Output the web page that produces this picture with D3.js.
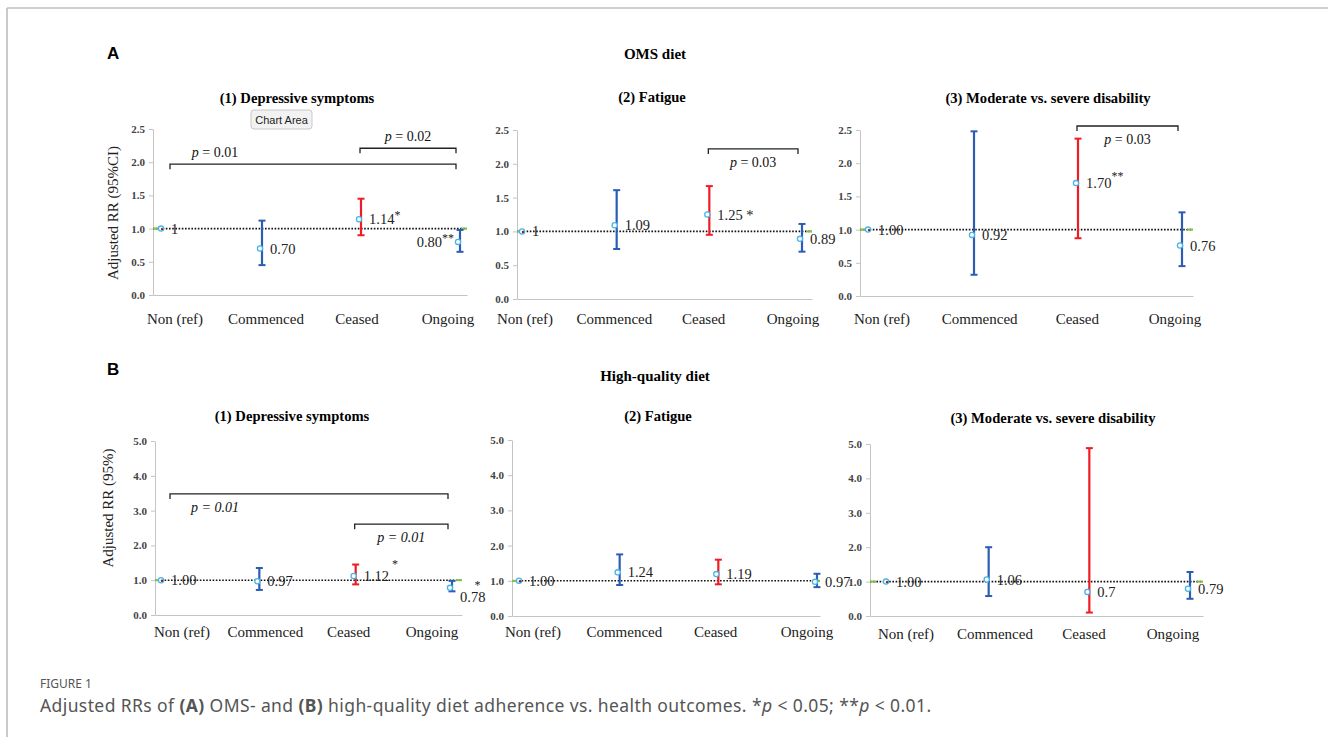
<!DOCTYPE html>
<html>
<head>
<meta charset="utf-8">
<script src="https://cdnjs.cloudflare.com/ajax/libs/d3/7.8.5/d3.min.js"></script>
<style>
  body { margin: 0; background: #fff; }
  svg { display: block; }
  .serif { font-family: "Liberation Serif", "DejaVu Serif", serif; }
  .axis path, .axis line { stroke: #c4c4c4; }
  .axis text { font-family: "Liberation Serif", serif; font-size: 11px; font-weight: bold; fill: #444; }
</style>
</head>
<body>
<div id="chart"></div>
<script>
const WIDTH = 1328;
const HEIGHT = 737;

const categories = ['Non (ref)', 'Commenced', 'Ceased', 'Ongoing'];

// OMS diet
const omsDepRR = [1.00, 0.70, 1.14, 0.80];
const omsDepLo = [1.00, 0.45, 0.90, 0.65];
const omsDepHi = [1.00, 1.12, 1.45, 0.98];
const omsDepText = ['1', '0.70', '1.14', '0.80'];
const omsDepStar = ['', '', '*', '**'];

const omsFatRR = [1.00, 1.09, 1.25, 0.89];
const omsFatLo = [1.00, 0.74, 0.95, 0.70];
const omsFatHi = [1.00, 1.61, 1.67, 1.11];
const omsFatText = ['1', '1.09', '1.25 *', '0.89'];
const omsFatStar = ['', '', '', ''];

const omsDisRR = [1.00, 0.92, 1.70, 0.76];
const omsDisLo = [1.00, 0.32, 0.87, 0.45];
const omsDisHi = [1.00, 2.48, 2.37, 1.26];
const omsDisText = ['1.00', '0.92', '1.70', '0.76'];
const omsDisStar = ['', '', '**', ''];

// High-quality diet
const hqDepRR = [1.00, 0.97, 1.12, 0.78];
const hqDepLo = [1.00, 0.72, 0.88, 0.68];
const hqDepHi = [1.00, 1.35, 1.45, 0.98];
const hqDepText = ['1.00', '0.97', '1.12', '0.78'];
const hqDepStar = ['', '', '*', '*'];

const hqFatRR = [1.00, 1.24, 1.19, 0.97];
const hqFatLo = [1.00, 0.88, 0.90, 0.82];
const hqFatHi = [1.00, 1.75, 1.60, 1.20];
const hqFatText = ['1.00', '1.24', '1.19', '0.97'];
const hqFatStar = ['', '', '', ''];

const hqDisRR = [1.00, 1.06, 0.70, 0.79];
const hqDisLo = [1.00, 0.58, 0.10, 0.50];
const hqDisHi = [1.00, 2.00, 4.88, 1.28];
const hqDisText = ['1.00', '1.06', '0.7', '0.79'];
const hqDisStar = ['', '', '', ''];

const omsTicks = [0, 0.5, 1.0, 1.5, 2.0, 2.5];
const hqTicks = [0, 1, 2, 3, 4, 5];

// significance brackets: category indices and the RR level of the bar
const omsDepBrackets = [
  {from: 0, to: 3, level: 1.97, label: '0.01', above: true},
  {from: 2, to: 3, level: 2.21, label: '0.02', above: true},
];
const omsFatBrackets = [{from: 2, to: 3, level: 2.22, label: '0.03', above: false}];
const omsDisBrackets = [{from: 2, to: 3, level: 2.56, label: '0.03', above: false}];
const hqDepBrackets = [
  {from: 0, to: 3, level: 3.48, label: '0.01', above: false, italic: true},
  {from: 2, to: 3, level: 2.61, label: '0.01', above: false, italic: true},
];

const BLUE = '#2b5db5';
const RED = '#ee1c24';
const barColors = [BLUE, BLUE, RED, BLUE];

const panels = [
  {title: '(1) Depressive symptoms', titleX: 297, titleY: 103, axisX: 153, right: 467, y0: 295, yTop: 129, max: 2.5,
   ticks: omsTicks, marks: [163, 460], labels: [175, 448], catY: 324, yTitle: 'Adjusted RR (95%CI)', yTitleX: 118, yTitleY: 213,
   rr: omsDepRR, lo: omsDepLo, hi: omsDepHi, text: omsDepText, star: omsDepStar, starDy: -5, starDx: [0, 0, 0, 0],
   brackets: omsDepBrackets, lastLeft: true},
  {title: '(2) Fatigue', titleX: 652, titleY: 102, axisX: 517, right: 812, y0: 299, yTop: 130, max: 2.5,
   ticks: omsTicks, marks: [524, 802], labels: [525, 793], catY: 324,
   rr: omsFatRR, lo: omsFatLo, hi: omsFatHi, text: omsFatText, star: omsFatStar, starDy: -5, starDx: [0, 0, 0, 0],
   brackets: omsFatBrackets},
  {title: '(3) Moderate vs. severe disability', titleX: 1048, titleY: 103, axisX: 860, right: 1193, y0: 296, yTop: 130, max: 2.5,
   ticks: omsTicks, marks: [870, 1182], labels: [882, 1175], catY: 324,
   rr: omsDisRR, lo: omsDisLo, hi: omsDisHi, text: omsDisText, star: omsDisStar, starDy: -8, starDx: [0, 0, 0, 0],
   brackets: omsDisBrackets},
  {title: '(1) Depressive symptoms', titleX: 292, titleY: 421, axisX: 155, right: 462, y0: 615, yTop: 441, max: 5,
   ticks: hqTicks, marks: [163, 452], labels: [182, 432], catY: 637, yTitle: 'Adjusted RR (95%)', yTitleX: 113, yTitleY: 508,
   rr: hqDepRR, lo: hqDepLo, hi: hqDepHi, text: hqDepText, star: hqDepStar, starDy: -13, starDx: [0, 0, 3, -11],
   brackets: hqDepBrackets, lastDown: 9},
  {title: '(2) Fatigue', titleX: 658, titleY: 421, axisX: 512, right: 820, y0: 616, yTop: 440, max: 5,
   ticks: hqTicks, marks: [521, 817], labels: [533, 807], catY: 637,
   rr: hqFatRR, lo: hqFatLo, hi: hqFatHi, text: hqFatText, star: hqFatStar, starDy: -5, starDx: [0, 0, 0, 0], brackets: []},
  {title: '(3) Moderate vs. severe disability', titleX: 1053, titleY: 423, axisX: 870, right: 1203, y0: 616, yTop: 444, max: 5,
   ticks: hqTicks, marks: [888, 1190], labels: [906, 1173], catY: 639,
   rr: hqDisRR, lo: hqDisLo, hi: hqDisHi, text: hqDisText, star: hqDisStar, starDy: -5, starDx: [0, 0, 0, 0], brackets: []},
];

const svg = d3.select('#chart').append('svg')
  .attr('width', WIDTH)
  .attr('height', HEIGHT);

// figure frame
svg.append('line').attr('x1', 7).attr('x2', WIDTH).attr('y1', 8).attr('y2', 8)
  .attr('stroke', '#cfcfcf').attr('stroke-width', 2);
svg.append('line').attr('x1', 7).attr('x2', 7).attr('y1', 8).attr('y2', HEIGHT)
  .attr('stroke', '#b8b8b8').attr('stroke-width', 1.5);

// section headings
svg.append('text').attr('x', 107).attr('y', 59).text('A')
  .style('font-family', 'Liberation Sans, sans-serif').style('font-weight', 'bold').style('font-size', '17px');
svg.append('text').attr('x', 107).attr('y', 375).text('B')
  .style('font-family', 'Liberation Sans, sans-serif').style('font-weight', 'bold').style('font-size', '17px');
svg.append('text').attr('class', 'serif').attr('x', 655).attr('y', 59).attr('text-anchor', 'middle')
  .style('font-weight', 'bold').style('font-size', '15px').text('OMS diet');
svg.append('text').attr('class', 'serif').attr('x', 655).attr('y', 381).attr('text-anchor', 'middle')
  .style('font-weight', 'bold').style('font-size', '15px').text('High-quality diet');

function drawPanel(p) {
  const g = svg.append('g').attr('class', 'panel');
  const y = d3.scaleLinear().domain([0, p.max]).range([p.y0, p.yTop]);
  const x = d3.scalePoint().domain(categories).range(p.marks);
  const xLab = d3.scalePoint().domain(categories).range(p.labels);
  const rows = categories.map((c, i) => ({
    cat: c, i: i, rr: p.rr[i], lo: p.lo[i], hi: p.hi[i], text: p.text[i], star: p.star[i]
  }));

  g.append('text').attr('class', 'serif')
    .attr('x', p.titleX).attr('y', p.titleY).attr('text-anchor', 'middle')
    .style('font-weight', 'bold').style('font-size', '14.6px')
    .text(p.title);

  g.append('g').attr('class', 'axis')
    .attr('transform', `translate(${p.axisX},0)`)
    .call(d3.axisLeft(y).tickValues(p.ticks).tickFormat(d3.format('.1f')).tickSize(4).tickSizeOuter(0))
    .call((a) => a.selectAll('text').attr('x', -8));

  g.append('g').attr('class', 'axis')
    .attr('transform', `translate(0,${p.y0})`)
    .call(d3.axisBottom(d3.scaleLinear().domain([0, 1]).range([p.axisX, p.right])).tickValues([]).tickSizeOuter(0));

  if (p.yTitle) {
    g.append('text').attr('class', 'serif')
      .attr('transform', `translate(${p.yTitleX},${p.yTitleY}) rotate(-90)`)
      .attr('text-anchor', 'middle').style('font-size', '15px').attr('fill', '#222')
      .text(p.yTitle);
  }

  g.selectAll('.cat').data(rows).enter().append('text')
    .attr('class', 'serif')
    .attr('x', (d) => xLab(d.cat)).attr('y', p.catY)
    .attr('text-anchor', 'middle').style('font-size', '15px').attr('fill', '#222')
    .text((d) => d.cat);

  // reference line at RR = 1
  g.append('line')
    .attr('x1', p.axisX).attr('x2', p.right).attr('y1', y(1)).attr('y2', y(1))
    .attr('stroke', '#111').attr('stroke-width', 1.6).attr('stroke-dasharray', '1.6,1.6');
  [p.axisX, p.right - 6].forEach((x0) => {
    g.append('line').attr('x1', x0).attr('x2', x0 + 6).attr('y1', y(1)).attr('y2', y(1))
      .attr('stroke', '#7dc242').attr('stroke-width', 2);
  });

  // error bars
  const bars = rows.filter((d) => d.i > 0);
  g.selectAll('.ci').data(bars).enter().append('line')
    .attr('x1', (d) => x(d.cat)).attr('x2', (d) => x(d.cat))
    .attr('y1', (d) => y(d.lo)).attr('y2', (d) => y(d.hi))
    .attr('stroke', (d) => barColors[d.i]).attr('stroke-width', 2.2);
  ['lo', 'hi'].forEach((k) => {
    g.selectAll('.cap-' + k).data(bars).enter().append('line')
      .attr('x1', (d) => x(d.cat) - 3.5).attr('x2', (d) => x(d.cat) + 3.5)
      .attr('y1', (d) => y(d[k])).attr('y2', (d) => y(d[k]))
      .attr('stroke', (d) => barColors[d.i]).attr('stroke-width', 2);
  });

  // point estimates
  g.selectAll('.pt').data(rows).enter().append('circle')
    .attr('cx', (d) => x(d.cat) - 2).attr('cy', (d) => y(d.rr)).attr('r', 2.6)
    .attr('fill', '#fff').attr('stroke', '#49b5e7').attr('stroke-width', 1.3);
  g.append('circle').attr('cx', x(categories[0]) - 1).attr('cy', y(1) + 0.5).attr('r', 1.2).attr('fill', '#8b1a2b');

  // value labels
  const lab = g.selectAll('.val').data(rows).enter().append('text')
    .attr('class', 'serif')
    .style('font-size', '14.5px').attr('fill', '#222')
    .attr('x', (d) => (p.lastLeft && d.i === 3) ? x(d.cat) - 6 : x(d.cat) + 8)
    .attr('y', (d) => y(d.rr) + (p.lastDown && d.i === 3 ? p.lastDown : 0))
    .attr('dy', '0.35em')
    .attr('text-anchor', (d) => (p.lastLeft && d.i === 3) ? 'end' : 'start');
  lab.append('tspan').text((d) => d.text);
  lab.filter((d) => d.star).append('tspan')
    .attr('dx', (d) => p.starDx[d.i])
    .attr('dy', p.starDy).style('font-size', '12px')
    .text((d) => d.star);

  // significance brackets
  p.brackets.forEach((b) => {
    const x1 = x(categories[b.from]) + (b.from === 0 ? 7 : -1);
    const x2 = x(categories[b.to]) - 4;
    const yb = y(b.level);
    g.append('path')
      .attr('d', `M${x1},${yb + 5}V${yb}H${x2}V${yb + 5}`)
      .attr('fill', 'none').attr('stroke', '#222').attr('stroke-width', 1.3);
    const t = g.append('text').attr('class', 'serif')
      .attr('x', b.from === 0 ? x1 + 45 : (x1 + x2) / 2)
      .attr('y', b.above ? yb - 7 : yb + 18)
      .attr('text-anchor', 'middle').style('font-size', '14px').attr('fill', '#111');
    t.append('tspan').style('font-style', 'italic').text('p');
    t.append('tspan').style('font-style', b.italic ? 'italic' : 'normal').text(' = ' + b.label);
  });
}

panels.forEach(drawPanel);

// leftover Excel "Chart Area" tooltip seen in the source figure
const tip = svg.append('g').attr('transform', 'translate(251,110)');
tip.append('rect').attr('width', 61).attr('height', 19).attr('rx', 3)
  .attr('fill', '#f2f2f2').attr('stroke', '#c8c8c8');
tip.append('text').attr('x', 30.5).attr('y', 13.5).attr('text-anchor', 'middle')
  .style('font-family', 'Liberation Sans, sans-serif').style('font-size', '11px').attr('fill', '#222')
  .text('Chart Area');

// caption
svg.append('text').attr('x', 40).attr('y', 688)
  .style('font-family', 'Noto Sans, sans-serif').style('font-size', '12px').attr('fill', '#555')
  .text('FIGURE 1');
const cap = svg.append('text').attr('x', 40).attr('y', 712)
  .style('font-family', 'Noto Sans, sans-serif').style('font-size', '17.5px')
  .style('letter-spacing', '0.4px').attr('fill', '#555');
cap.append('tspan').text('Adjusted RRs of ');
cap.append('tspan').style('font-weight', 'bold').text('(A)');
cap.append('tspan').text(' OMS- and ');
cap.append('tspan').style('font-weight', 'bold').text('(B)');
cap.append('tspan').text(' high-quality diet adherence vs. health outcomes. *');
cap.append('tspan').style('font-style', 'italic').text('p');
cap.append('tspan').text(' < 0.05; **');
cap.append('tspan').style('font-style', 'italic').text('p');
cap.append('tspan').text(' < 0.01.');
</script>
</body>
</html>
